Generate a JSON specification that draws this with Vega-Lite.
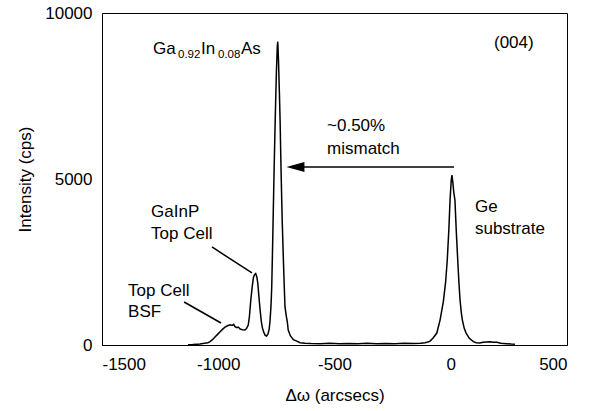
{
  "$schema": "https://vega.github.io/schema/vega-lite/v6.json",
  "width": 465,
  "height": 332,
  "autosize": {"type": "none"},
  "padding": {"left": 102, "top": 13, "right": 26, "bottom": 66},
  "background": "white",
  "config": {
    "view": {"stroke": "black", "strokeWidth": 1},
    "font": "Liberation Sans",
    "axis": {
      "grid": false,
      "ticks": false,
      "domainColor": "black",
      "domainWidth": 1,
      "labelFont": "Liberation Sans",
      "labelFontSize": 17,
      "labelColor": "black",
      "titleFont": "Liberation Sans",
      "titleFontSize": 17,
      "titleFontWeight": "normal",
      "titleColor": "black"
    }
  },
  "datasets": {
    "spectrum": [
      {"x": -1130, "y": 10}, {"x": -1110, "y": 15}, {"x": -1090, "y": 25}, {"x": -1078, "y": 30},
      {"x": -1060, "y": 50}, {"x": -1045, "y": 70}, {"x": -1035, "y": 100}, {"x": -1025, "y": 160},
      {"x": -1014, "y": 240}, {"x": -1003, "y": 320}, {"x": -992, "y": 400}, {"x": -982, "y": 470},
      {"x": -971, "y": 540}, {"x": -960, "y": 580}, {"x": -949, "y": 610}, {"x": -940, "y": 590},
      {"x": -934, "y": 620}, {"x": -928, "y": 550}, {"x": -920, "y": 520}, {"x": -914, "y": 540},
      {"x": -906, "y": 480}, {"x": -896, "y": 460}, {"x": -885, "y": 450}, {"x": -878, "y": 500},
      {"x": -871, "y": 600}, {"x": -866, "y": 850}, {"x": -860, "y": 1355}, {"x": -854, "y": 1750},
      {"x": -849, "y": 2018}, {"x": -844, "y": 2120}, {"x": -839, "y": 2150}, {"x": -834, "y": 2050},
      {"x": -830, "y": 1867}, {"x": -825, "y": 1450}, {"x": -820, "y": 1054}, {"x": -815, "y": 720},
      {"x": -810, "y": 512}, {"x": -804, "y": 380}, {"x": -798, "y": 290}, {"x": -792, "y": 270},
      {"x": -786, "y": 330}, {"x": -781, "y": 480}, {"x": -777, "y": 753}, {"x": -773, "y": 1200},
      {"x": -770, "y": 1747}, {"x": -767, "y": 2700}, {"x": -764, "y": 3765}, {"x": -760, "y": 5200},
      {"x": -755, "y": 6777}, {"x": -750, "y": 8200}, {"x": -746, "y": 9000}, {"x": -744, "y": 9136},
      {"x": -741, "y": 8600}, {"x": -737, "y": 7600}, {"x": -734, "y": 6777}, {"x": -730, "y": 5300},
      {"x": -725, "y": 3765}, {"x": -720, "y": 2600}, {"x": -716, "y": 1747}, {"x": -713, "y": 1154},
      {"x": -708, "y": 900}, {"x": -703, "y": 700}, {"x": -699, "y": 450}, {"x": -690, "y": 280},
      {"x": -677, "y": 160}, {"x": -660, "y": 110}, {"x": -648, "y": 70}, {"x": -627, "y": 55},
      {"x": -600, "y": 45}, {"x": -560, "y": 40}, {"x": -520, "y": 50}, {"x": -480, "y": 35},
      {"x": -440, "y": 45}, {"x": -400, "y": 40}, {"x": -360, "y": 50}, {"x": -320, "y": 35},
      {"x": -280, "y": 45}, {"x": -240, "y": 40}, {"x": -200, "y": 50}, {"x": -160, "y": 45},
      {"x": -130, "y": 55}, {"x": -110, "y": 70}, {"x": -90, "y": 110}, {"x": -75, "y": 220},
      {"x": -60, "y": 360}, {"x": -46, "y": 750}, {"x": -32, "y": 1300}, {"x": -22, "y": 1900},
      {"x": -15, "y": 2560}, {"x": -8, "y": 3500}, {"x": -3, "y": 4367}, {"x": 2, "y": 4950},
      {"x": 5, "y": 5120}, {"x": 9, "y": 4900}, {"x": 13, "y": 4600}, {"x": 18, "y": 4367},
      {"x": 24, "y": 3400}, {"x": 30, "y": 2560}, {"x": 35, "y": 1900}, {"x": 40, "y": 1355},
      {"x": 45, "y": 1000}, {"x": 50, "y": 750}, {"x": 58, "y": 500}, {"x": 66, "y": 360},
      {"x": 80, "y": 200}, {"x": 97, "y": 100}, {"x": 110, "y": 70}, {"x": 125, "y": 60},
      {"x": 139, "y": 80}, {"x": 155, "y": 90}, {"x": 169, "y": 95}, {"x": 185, "y": 85},
      {"x": 199, "y": 80}, {"x": 215, "y": 55}, {"x": 240, "y": 40}, {"x": 260, "y": 30},
      {"x": 276, "y": 25}
    ],
    "leaders": [
      {"x": -1027, "y": 2952, "x2": -855, "y2": 2169},
      {"x": -1147, "y": 1295, "x2": -988, "y2": 663}
    ],
    "arrow": [{"x": -668, "x2": 14, "y": 5361}],
    "labels": [
      {"x": -1281, "y": 8765, "text": "Ga"},
      {"x": -1074, "y": 8765, "text": "In"},
      {"x": -902, "y": 8765, "text": "As"},
      {"x": 186, "y": 8946, "text": "(004)"},
      {"x": -532, "y": 6446, "text": "~0.50%"},
      {"x": -532, "y": 5753, "text": "mismatch"},
      {"x": -1289, "y": 3855, "text": "GaInP"},
      {"x": -1289, "y": 3193, "text": "Top Cell"},
      {"x": -1388, "y": 1476, "text": "Top Cell"},
      {"x": -1388, "y": 843, "text": "BSF"},
      {"x": 104, "y": 4006, "text": "Ge"},
      {"x": 104, "y": 3343, "text": "substrate"}
    ],
    "subscripts": [
      {"x": -1173, "y": 8645, "text": "0.92"},
      {"x": -1001, "y": 8645, "text": "0.08"}
    ]
  },
  "encoding": {
    "x": {
      "field": "x", "type": "quantitative",
      "scale": {"domain": [-1500, 500], "nice": false, "zero": false},
      "axis": {"values": [-1500, -1000, -500, 0, 500], "title": "Δω (arcsecs)", "labelPadding": 11, "titlePadding": 15, "labelExpr": "toString(datum.value)"}
    },
    "y": {
      "field": "y", "type": "quantitative",
      "scale": {"domain": [0, 10000], "nice": false},
      "axis": {"values": [0, 5000, 10000], "title": "Intensity (cps)", "labelPadding": 10, "titlePadding": 10, "labelExpr": "toString(datum.value)"}
    }
  },
  "layer": [
    {
      "data": {"name": "spectrum"},
      "mark": {"type": "line", "color": "black", "strokeWidth": 1.5, "clip": true}
    },
    {
      "data": {"name": "leaders"},
      "mark": {"type": "rule", "color": "black", "strokeWidth": 1.5},
      "encoding": {
        "x2": {"field": "x2"},
        "y2": {"field": "y2"}
      }
    },
    {
      "data": {"name": "arrow"},
      "mark": {"type": "rule", "color": "black", "strokeWidth": 1.5},
      "encoding": {
        "x2": {"field": "x2"}
      }
    },
    {
      "data": {"name": "arrow"},
      "mark": {"type": "point", "shape": "M-1,0L1,-0.55L1,0.55Z", "filled": true, "color": "black", "opacity": 1, "size": 324}
    },
    {
      "data": {"name": "labels"},
      "mark": {"type": "text", "align": "left", "baseline": "alphabetic", "fontSize": 17, "font": "Liberation Sans", "color": "black"},
      "encoding": {
        "text": {"field": "text"}
      }
    },
    {
      "data": {"name": "subscripts"},
      "mark": {"type": "text", "align": "left", "baseline": "alphabetic", "fontSize": 11.5, "font": "Liberation Sans", "color": "black"},
      "encoding": {
        "text": {"field": "text"}
      }
    }
  ]
}
